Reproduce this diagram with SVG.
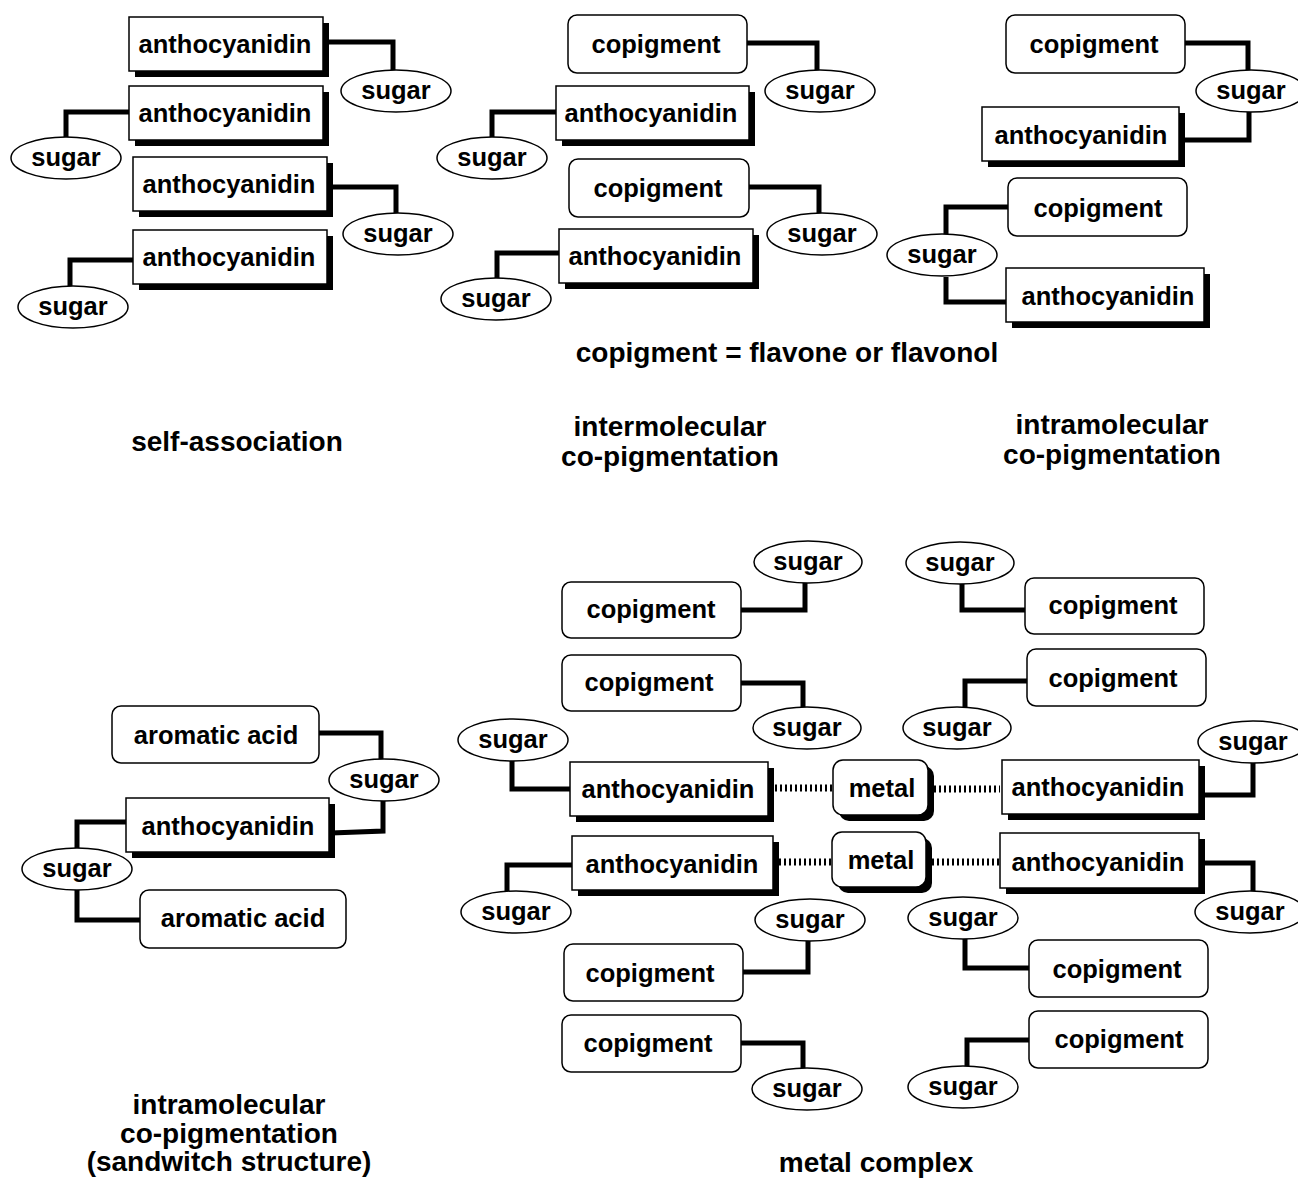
<svg xmlns="http://www.w3.org/2000/svg" width="1298" height="1178" viewBox="0 0 1298 1178">
<style>
.bg{fill:#fff}
.box{fill:#fff;stroke:#000;stroke-width:1.5}
.sh{fill:#000}
.ell{fill:#fff;stroke:#000;stroke-width:1.5}
.lbl{font-family:"Liberation Sans",Arial,sans-serif;font-weight:bold;font-size:25.5px;text-anchor:middle;fill:#000}
.ttl{font-family:"Liberation Sans",Arial,sans-serif;font-weight:bold;font-size:28px;text-anchor:middle;fill:#000}
.conn{fill:none;stroke:#000;stroke-width:5;stroke-linejoin:miter}
.dots{fill:none;stroke:#000;stroke-width:7;stroke-dasharray:2 3}
</style>
<rect class="bg" x="0" y="0" width="1298" height="1178"/>
<g id="connectors">
<!-- self-association -->
<path class="conn" d="M323,42 H393 V70"/>
<path class="conn" d="M129,112 H66 V137"/>
<path class="conn" d="M327,187 H396 V213"/>
<path class="conn" d="M133,260 H70 V286"/>
<!-- intermolecular -->
<path class="conn" d="M747,43 H817 V70"/>
<path class="conn" d="M556,112 H492 V137"/>
<path class="conn" d="M749,187 H819 V213"/>
<path class="conn" d="M559,253 H497 V278"/>
<!-- intramolecular -->
<path class="conn" d="M1185,43 H1248 V70"/>
<path class="conn" d="M1249,112 V140 H1180"/>
<path class="conn" d="M1008,207 H946 V234"/>
<path class="conn" d="M946,277 V302 H1006"/>
<!-- sandwich -->
<path class="conn" d="M319,733 H381 V759"/>
<path class="conn" d="M331,833 L383,831 V801"/>
<path class="conn" d="M126,822 H77 V848"/>
<path class="conn" d="M77,890 V920 H140"/>
<!-- metal complex -->
<path class="conn" d="M741,610 H805 V583"/>
<path class="conn" d="M962,584 V610 H1025"/>
<path class="conn" d="M741,683 H803 V707"/>
<path class="conn" d="M1027,681 H965 V707"/>
<path class="conn" d="M512,761 V789 H570"/>
<path class="conn" d="M1199,795 H1253 V763"/>
<path class="conn" d="M572,865 H507 V891"/>
<path class="conn" d="M1199,863 H1253 V891"/>
<path class="conn" d="M743,972 H808 V941"/>
<path class="conn" d="M965,939 V968 H1029"/>
<path class="conn" d="M741,1043 H803 V1068"/>
<path class="conn" d="M1029,1040 H967 V1066"/>
<path class="dots" d="M775,788 H832"/>
<path class="dots" d="M934,789 H1000"/>
<path class="dots" d="M779,862 H832"/>
<path class="dots" d="M932,862 H1000"/>
</g>

<!-- self-association nodes -->
<g id="sa-antho1"><rect class="sh" x="135" y="23" width="194" height="54"/><rect class="box" x="129" y="17" width="194" height="54"/><text class="lbl" x="225" y="53">anthocyanidin</text></g>
<g id="sa-sugar1"><ellipse class="ell" cx="396" cy="91" rx="55" ry="21"/><text class="lbl" x="396" y="99">sugar</text></g>
<g id="sa-antho2"><rect class="sh" x="135" y="92" width="194" height="54"/><rect class="box" x="129" y="86" width="194" height="54"/><text class="lbl" x="225" y="122">anthocyanidin</text></g>
<g id="sa-sugar2"><ellipse class="ell" cx="66" cy="158" rx="55" ry="21"/><text class="lbl" x="66" y="166">sugar</text></g>
<g id="sa-antho3"><rect class="sh" x="139" y="163" width="194" height="54"/><rect class="box" x="133" y="157" width="194" height="54"/><text class="lbl" x="229" y="193">anthocyanidin</text></g>
<g id="sa-sugar3"><ellipse class="ell" cx="398" cy="234" rx="55" ry="21"/><text class="lbl" x="398" y="242">sugar</text></g>
<g id="sa-antho4"><rect class="sh" x="139" y="236" width="194" height="54"/><rect class="box" x="133" y="230" width="194" height="54"/><text class="lbl" x="229" y="266">anthocyanidin</text></g>
<g id="sa-sugar4"><ellipse class="ell" cx="73" cy="307" rx="55" ry="21"/><text class="lbl" x="73" y="315">sugar</text></g>

<!-- intermolecular nodes -->
<g id="ie-cop1"><rect class="box" x="568" y="15" width="179" height="58" rx="9"/><text class="lbl" x="656" y="53">copigment</text></g>
<g id="ie-sugar1"><ellipse class="ell" cx="820" cy="91" rx="55" ry="21"/><text class="lbl" x="820" y="99">sugar</text></g>
<g id="ie-antho1"><rect class="sh" x="562" y="92" width="193" height="54"/><rect class="box" x="556" y="86" width="193" height="54"/><text class="lbl" x="651" y="122">anthocyanidin</text></g>
<g id="ie-sugar2"><ellipse class="ell" cx="492" cy="158" rx="55" ry="21"/><text class="lbl" x="492" y="166">sugar</text></g>
<g id="ie-cop2"><rect class="box" x="569" y="159" width="180" height="58" rx="9"/><text class="lbl" x="658" y="197">copigment</text></g>
<g id="ie-sugar3"><ellipse class="ell" cx="822" cy="234" rx="55" ry="21"/><text class="lbl" x="822" y="242">sugar</text></g>
<g id="ie-antho2"><rect class="sh" x="565" y="235" width="194" height="54"/><rect class="box" x="559" y="229" width="194" height="54"/><text class="lbl" x="655" y="265">anthocyanidin</text></g>
<g id="ie-sugar4"><ellipse class="ell" cx="496" cy="299" rx="55" ry="21"/><text class="lbl" x="496" y="307">sugar</text></g>

<!-- intramolecular nodes -->
<g id="ia-cop1"><rect class="box" x="1006" y="15" width="179" height="58" rx="9"/><text class="lbl" x="1094" y="53">copigment</text></g>
<g id="ia-sugar1"><ellipse class="ell" cx="1251" cy="91" rx="55" ry="21"/><text class="lbl" x="1251" y="99">sugar</text></g>
<g id="ia-antho1"><rect class="sh" x="988" y="113" width="197" height="54"/><rect class="box" x="982" y="107" width="197" height="54"/><text class="lbl" x="1081" y="144">anthocyanidin</text></g>
<g id="ia-cop2"><rect class="box" x="1008" y="178" width="179" height="58" rx="9"/><text class="lbl" x="1098" y="217">copigment</text></g>
<g id="ia-sugar2"><ellipse class="ell" cx="942" cy="255" rx="55" ry="21"/><text class="lbl" x="942" y="263">sugar</text></g>
<g id="ia-antho2"><rect class="sh" x="1012" y="274" width="198" height="54"/><rect class="box" x="1006" y="268" width="198" height="54"/><text class="lbl" x="1108" y="305">anthocyanidin</text></g>

<g id="captions">
<text class="ttl" x="787" y="362">copigment = flavone or flavonol</text>
<text class="ttl" x="237" y="451">self-association</text>
<text class="ttl" x="670" y="436">intermolecular</text>
<text class="ttl" x="670" y="466">co-pigmentation</text>
<text class="ttl" x="1112" y="434">intramolecular</text>
<text class="ttl" x="1112" y="464">co-pigmentation</text>
<text class="ttl" x="229" y="1114">intramolecular</text>
<text class="ttl" x="229" y="1143">co-pigmentation</text>
<text class="ttl" x="229" y="1171">(sandwitch structure)</text>
<text class="ttl" x="876" y="1172">metal complex</text>
</g>

<!-- sandwich nodes -->
<g id="sw-aro1"><rect class="box" x="112" y="706" width="207" height="57" rx="9"/><text class="lbl" x="216" y="744">aromatic acid</text></g>
<g id="sw-sugar1"><ellipse class="ell" cx="384" cy="780" rx="55" ry="21"/><text class="lbl" x="384" y="788">sugar</text></g>
<g id="sw-antho"><rect class="sh" x="132" y="804" width="203" height="54"/><rect class="box" x="126" y="798" width="203" height="54"/><text class="lbl" x="228" y="835">anthocyanidin</text></g>
<g id="sw-sugar2"><ellipse class="ell" cx="77" cy="869" rx="55" ry="21"/><text class="lbl" x="77" y="877">sugar</text></g>
<g id="sw-aro2"><rect class="box" x="140" y="890" width="206" height="58" rx="9"/><text class="lbl" x="243" y="927">aromatic acid</text></g>

<!-- metal complex nodes -->
<g id="mc-sugar1"><ellipse class="ell" cx="808" cy="562" rx="54" ry="21"/><text class="lbl" x="808" y="570">sugar</text></g>
<g id="mc-cop1"><rect class="box" x="562" y="582" width="179" height="56" rx="9"/><text class="lbl" x="651" y="618">copigment</text></g>
<g id="mc-sugar2"><ellipse class="ell" cx="960" cy="563" rx="54" ry="21"/><text class="lbl" x="960" y="571">sugar</text></g>
<g id="mc-cop2"><rect class="box" x="1025" y="578" width="179" height="56" rx="9"/><text class="lbl" x="1113" y="614">copigment</text></g>
<g id="mc-cop3"><rect class="box" x="562" y="655" width="179" height="56" rx="9"/><text class="lbl" x="649" y="691">copigment</text></g>
<g id="mc-sugar3"><ellipse class="ell" cx="807" cy="728" rx="54" ry="21"/><text class="lbl" x="807" y="736">sugar</text></g>
<g id="mc-cop4"><rect class="box" x="1027" y="649" width="179" height="57" rx="9"/><text class="lbl" x="1113" y="687">copigment</text></g>
<g id="mc-sugar4"><ellipse class="ell" cx="957" cy="728" rx="54" ry="21"/><text class="lbl" x="957" y="736">sugar</text></g>

<g id="mc-sugar5"><ellipse class="ell" cx="513" cy="740" rx="55" ry="21"/><text class="lbl" x="513" y="748">sugar</text></g>
<g id="mc-antho1"><rect class="sh" x="576" y="768" width="198" height="54"/><rect class="box" x="570" y="762" width="198" height="54"/><text class="lbl" x="668" y="798">anthocyanidin</text></g>
<g id="mc-metal1"><rect class="sh" x="839" y="766" width="95" height="55" rx="10"/><rect class="box" x="833" y="760" width="95" height="55" rx="10"/><text class="lbl" x="882" y="797">metal</text></g>
<g id="mc-antho2"><rect class="sh" x="1008" y="766" width="197" height="54"/><rect class="box" x="1002" y="760" width="197" height="54"/><text class="lbl" x="1098" y="796">anthocyanidin</text></g>
<g id="mc-sugar6"><ellipse class="ell" cx="1253" cy="742" rx="55" ry="21"/><text class="lbl" x="1253" y="750">sugar</text></g>

<g id="mc-antho3"><rect class="sh" x="578" y="842" width="201" height="54"/><rect class="box" x="572" y="836" width="201" height="54"/><text class="lbl" x="672" y="873">anthocyanidin</text></g>
<g id="mc-sugar7"><ellipse class="ell" cx="516" cy="912" rx="55" ry="21"/><text class="lbl" x="516" y="920">sugar</text></g>
<g id="mc-metal2"><rect class="sh" x="838" y="838" width="94" height="55" rx="10"/><rect class="box" x="832" y="832" width="94" height="55" rx="10"/><text class="lbl" x="881" y="869">metal</text></g>
<g id="mc-antho4"><rect class="sh" x="1006" y="839" width="199" height="55"/><rect class="box" x="1000" y="833" width="199" height="55"/><text class="lbl" x="1098" y="871">anthocyanidin</text></g>
<g id="mc-sugar8"><ellipse class="ell" cx="1250" cy="912" rx="55" ry="21"/><text class="lbl" x="1250" y="920">sugar</text></g>

<g id="mc-sugar9"><ellipse class="ell" cx="810" cy="920" rx="55" ry="21"/><text class="lbl" x="810" y="928">sugar</text></g>
<g id="mc-cop5"><rect class="box" x="564" y="944" width="179" height="57" rx="9"/><text class="lbl" x="650" y="982">copigment</text></g>
<g id="mc-sugar10"><ellipse class="ell" cx="963" cy="918" rx="55" ry="21"/><text class="lbl" x="963" y="926">sugar</text></g>
<g id="mc-cop6"><rect class="box" x="1029" y="940" width="179" height="57" rx="9"/><text class="lbl" x="1117" y="978">copigment</text></g>
<g id="mc-cop7"><rect class="box" x="562" y="1015" width="179" height="57" rx="9"/><text class="lbl" x="648" y="1052">copigment</text></g>
<g id="mc-sugar11"><ellipse class="ell" cx="807" cy="1089" rx="55" ry="21"/><text class="lbl" x="807" y="1097">sugar</text></g>
<g id="mc-cop8"><rect class="box" x="1029" y="1011" width="179" height="57" rx="9"/><text class="lbl" x="1119" y="1048">copigment</text></g>
<g id="mc-sugar12"><ellipse class="ell" cx="963" cy="1087" rx="55" ry="21"/><text class="lbl" x="963" y="1095">sugar</text></g>
</svg>
